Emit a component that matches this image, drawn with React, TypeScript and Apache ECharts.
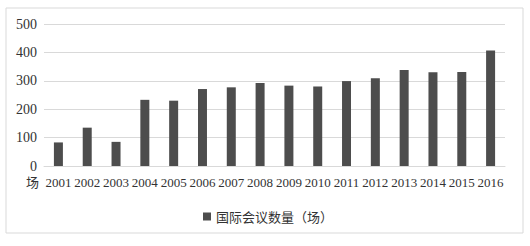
import React, { useEffect, useRef } from "react";
import * as echarts from "echarts";

const years = ["2001","2002","2003","2004","2005","2006","2007","2008","2009","2010","2011","2012","2013","2014","2015","2016"];
const meetings = [83, 135, 85, 233, 230, 271, 277, 292, 283, 280, 299, 309, 338, 330, 331, 407];
const seriesName = "国际会议数量（场）";
const unitLabel = "场";

const SERIF = "Liberation Serif";

export default function App() {
  const ref = useRef<HTMLDivElement>(null);
  useEffect(() => {
    const chart = echarts.init(ref.current!, null, { renderer: "svg" });
    chart.setOption({
      animation: false,
      backgroundColor: "#ffffff",
      textStyle: { fontFamily: SERIF },
      grid: { left: 44, right: 25, top: 24, bottom: 80, containLabel: false },
      xAxis: {
        type: "category",
        data: years,
        axisLine: { lineStyle: { color: "#d9d9d9" } },
        axisTick: { show: false },
        axisLabel: { color: "#333", fontFamily: SERIF, fontSize: 13, margin: 10, interval: 0 },
      },
      yAxis: {
        type: "value",
        min: 0,
        max: 500,
        interval: 100,
        axisLine: { show: false },
        axisTick: { show: false },
        splitLine: { lineStyle: { color: "#d9d9d9" } },
        axisLabel: { color: "#333", fontFamily: SERIF, fontSize: 14, margin: 7 },
      },
      legend: {
        data: [seriesName],
        left: 198,
        top: 205,
        icon: "rect",
        itemWidth: 8,
        itemHeight: 8,
        itemGap: 4,
        textStyle: { color: "#333", fontFamily: "Noto Sans CJK SC", fontSize: 13 },
      },
      graphic: [
        {
          type: "rect",
          shape: { x: 6, y: 8, width: 517, height: 225 },
          style: { fill: "none", stroke: "#d9d9d9", lineWidth: 1 },
          silent: true,
        },
        {
          type: "text",
          x: 26,
          y: 175,
          style: { text: unitLabel, fill: "#333", fontSize: 13, fontFamily: "Noto Sans CJK SC" },
        },
      ],
      series: [
        {
          name: seriesName,
          type: "bar",
          data: meetings,
          barWidth: 9,
          itemStyle: { color: "#4d4d4d" },
        },
      ],
    });
    return () => chart.dispose();
  }, []);
  return <div ref={ref} style={{ position: "fixed", left: 0, top: 0, width: 530, height: 246 }} />;
}
